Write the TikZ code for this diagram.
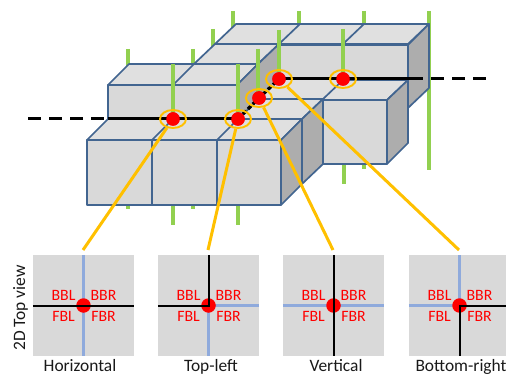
\documentclass[tikz,border=0pt]{standalone}
\usepackage{fontspec}
\usetikzlibrary{shapes.geometric}
\setmainfont{Carlito}
\definecolor{edgeblue}{HTML}{426590}
\definecolor{topface}{HTML}{E0E0E0}
\definecolor{frontface}{HTML}{D9D9D9}
\definecolor{sideface}{HTML}{ADADAD}
\definecolor{gold}{HTML}{FFC000}
\definecolor{stick}{HTML}{92D050}
\definecolor{paleblue}{HTML}{8FAADC}
\tikzset{
  x=1pt,y=-1pt,
  top/.style={fill=topface,draw=edgeblue,line width=1.7pt,line join=round},
  front/.style={fill=frontface,draw=edgeblue,line width=1.9pt,line join=round},
  side/.style={fill=sideface,draw=edgeblue,line width=1.7pt,line join=round},
  edgeline/.style={draw=edgeblue,line width=1.7pt},
  stickline/.style={draw=stick,line width=3.4pt},
  reddot/.style={circle,fill=red,minimum size=13.5pt,inner sep=0pt},
  ring/.style={ellipse,draw=gold,line width=1.9pt,minimum width=26pt,minimum height=18pt,inner sep=0pt},
  callout/.style={draw=gold,line width=3pt},
  rail/.style={draw=black,line width=3pt},
  raildash/.style={draw=black,line width=3pt,dash pattern=on 12.5pt off 8.5pt},
  raildot/.style={draw=black,line width=3.2pt,dash pattern=on 4.5pt off 2.5pt},
  panel/.style={rectangle,fill=frontface,minimum size=101pt,inner sep=0pt},
  axisblue/.style={draw=paleblue,line width=2.2pt},
  axisblack/.style={draw=black,line width=2pt},
  quad/.style={text=red,font=\fontsize{15.8}{16}\selectfont,inner sep=0pt,anchor=base},
  caption/.style={text=black!90,font=\fontsize{17.4}{18}\selectfont,inner sep=0pt,anchor=base},
}
\begin{document}
\begin{tikzpicture}
\clip (0,0) rectangle (506,374);
% sticks behind the blocks
\foreach \x/\a/\b in {128/49/209,193/49/209,213/29/60,233/11/40,299/11/40,364/11/169,429/11/170,173/200/225,238/200/225,344/150/184}
  \draw[stickline] (\x,\a) -- (\x,\b);
% back row
\draw[top] (215,44) -- (408,44) -- (429,24) -- (236,24) -- cycle;
\draw[edgeline] (279,44) -- (300,24) (343,44) -- (364,24);
\draw[front] (279,45) rectangle (408,108);
\draw[side] (408,45) -- (429,24) -- (429,88) -- (408,108) -- cycle;
% second row from the back
\draw[top] (194,64) -- (258,64) -- (279,44) -- (215,44) -- cycle;
\draw[side] (258,64) -- (279,44) -- (279,108) -- (258,128) -- cycle;
% left upper row
\draw[front] (108,85) rectangle (237,149);
\draw[top] (108,85) -- (129,64) -- (258,64) -- (237,85) -- cycle;
\draw[edgeline] (173,85) -- (194,64);
\draw[side] (237,85) -- (258,64) -- (258,128) -- (237,149) -- cycle;
% sticks rising from the crossings
\foreach \x/\a/\b in {173/64/119,238/64/119,258/49/98,279/30/79,343/29/79}
  \draw[stickline] (\x,\a) -- (\x,\b);
% right-hand cube
\fill[topface] (258,99) -- (279,79) -- (343,79) -- (322,100) -- cycle;
\draw[top] (322,100) -- (343,80) -- (408,80) -- (387,100) -- cycle;
\draw[front] (322,100) rectangle (387,164);
\draw[side] (387,100) -- (408,80) -- (408,143) -- (387,164) -- cycle;
\draw[edgeline] (258,99) -- (322,99);
% middle cube
\draw[top] (238,119) -- (259,99) -- (323,99) -- (302,119) -- cycle;
\draw[side] (302,119) -- (323,99) -- (323,164) -- (302,184) -- cycle;
% front row
\draw[top] (87,140) -- (108,119) -- (302,119) -- (281,140) -- cycle;
\draw[edgeline] (152,140) -- (173,119) (217,140) -- (238,119);
\draw[front] (87,140) rectangle (152,205);
\draw[front] (152,140) rectangle (217,205);
\draw[front] (217,140) rectangle (281,205);
\draw[side] (281,140) -- (302,119) -- (302,184) -- (281,205) -- cycle;
% rail
\node[reddot] (d1) at (173,119) {};
\node[reddot] (d2) at (238,119) {};
\node[reddot] (d3) at (259,98) {};
\node[reddot] (d4) at (279,79) {};
\node[reddot] (d5) at (343,79) {};
\coordinate (railL) at (28,119);
\coordinate (railA) at (108,119);
\coordinate (railB) at (410,79);
\coordinate (railR) at (486,79);
\draw[raildash] (railL) -- (railA);
\draw[rail] (railA) -- (d1.center) -- (d2.center);
\draw[raildot] (d2.center) -- (d3.center) -- (d4.center);
\draw[rail] (d4.center) -- (d5.center) -- (railB);
\draw[raildash] (railB) -- (railR);
\foreach \n in {d1,d2,d3,d4,d5}
  \node[reddot] (\n top) at (\n) {};
\node[ring] (r1) at (d1) {};
\node[ring] (r2) at (d2) {};
\node[ring] (r3) at (d3) {};
\node[ring] (r4) at (d4) {};
\node[ring] (r5) at (d5) {};
% panels
\node[panel] (p1) at (83.5,305.5) {};
\node[panel] (p2) at (208.5,305.5) {};
\node[panel] (p3) at (333.5,305.5) {};
\node[panel] (p4) at (459.5,305.5) {};
\draw[axisblue] (p1.north) -- (p1.south);
\draw[axisblue] (p2.east) -- (p2.center) -- (p2.south);
\draw[axisblue] (p3.west) -- (p3.east);
\draw[axisblue] (p4.west) -- (p4.center) -- (p4.north);
\foreach \p in {p1,p2,p3,p4}
  \node[reddot,minimum size=14.5pt] (\p c) at (\p) {};
\draw[axisblack] (p1.west) -- (p1.east);
\draw[axisblack] (p2.west) -- (p2.center) -- (p2.north);
\draw[axisblack] (p3.north) -- (p3.south);
\draw[axisblack] (p4.east) -- (p4.center) -- (p4.south);
\foreach \p in {p1,p2,p3,p4}{
  \node[quad] (\p bbl) at ([shift={(-20,-5)}]\p.center) {BBL};
  \node[quad] (\p bbr) at ([shift={(20,-5)}]\p.center) {BBR};
  \node[quad] (\p fbl) at ([shift={(-20,15.5)}]\p.center) {FBL};
  \node[quad] (\p fbr) at ([shift={(20,15.5)}]\p.center) {FBR};
}
% callouts
\coordinate (t1) at (83,250);
\coordinate (t2) at (208,250);
\coordinate (t3) at (333,250);
\coordinate (t4) at (459,250);
\draw[callout] (r1) -- (t1);
\draw[callout] (r2) -- (t2);
\draw[callout] (r3) -- (t3);
\draw[callout] (r4) -- (t4);
% captions
\node[caption] (c1) at (80,371) {Horizontal};
\node[caption] (c2) at (211,371) {Top-left};
\node[caption] (c3) at (336,371) {Vertical};
\node[caption] (c4) at (461,371) {Bottom-right};
\node[caption,rotate=90] (sidelabel) at (25,308) {2D Top view};
\end{tikzpicture}
\end{document}
